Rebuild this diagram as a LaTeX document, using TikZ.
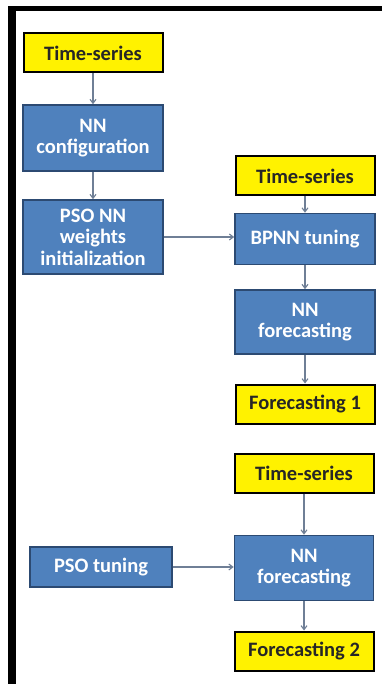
\documentclass[tikz,border=0pt]{standalone}
\usepackage{fontspec}
\setmainfont{Carlito}
\usetikzlibrary{arrows.meta}
\definecolor{boxblue}{HTML}{4F81BD}
\definecolor{boxedge}{HTML}{2C4A72}
\definecolor{arrowgray}{HTML}{6F7F96}
\tikzset{
  bluebox/.style={draw=boxedge, line width=1.6pt, fill=boxblue, text=white, font=\fontsize{20.5}{21.5}\selectfont\bfseries, align=center, inner sep=0pt, minimum width=140pt},
  yelbox/.style={draw=black, line width=2pt, fill=yellow, text=black!85, font=\fontsize{20.5}{21.5}\selectfont\bfseries, align=center, inner sep=0pt, minimum width=139pt, minimum height=39pt},
  conn/.style={draw=arrowgray, line width=1.1pt, -{Straight Barb[length=4pt,width=6pt]}}
}
\begin{document}
\begin{tikzpicture}[x=1pt,y=-1pt]
\useasboundingbox (0,0) rectangle (382,684);
\fill[white] (0,0) rectangle (382,684);
\fill[black] (8,6) rectangle (382,11);
\fill[black] (8,6) rectangle (16,684);
\node[yelbox] (ts1) at (93,53) {Time-series};
\node[bluebox, minimum height=66pt] (cfg) at (93,138) {NN\\configuration};
\node[bluebox, minimum height=74pt] (pso) at (93,237) {PSO NN\\weights\\initialization};
\node[yelbox] (ts2) at (305,176) {Time-series};
\node[bluebox, minimum height=51pt] (bp) at (305,239) {BPNN tuning};
\node[bluebox, minimum height=64pt] (nnf1) at (305,322) {NN\\forecasting};
\node[yelbox] (f1) at (305,404) {Forecasting 1};
\node[yelbox] (ts3) at (304,473) {Time-series};
\node[bluebox, minimum width=139pt, minimum height=65pt] (nnf2) at (304,568) {NN\\forecasting};
\node[bluebox, minimum width=142pt, minimum height=40pt] (psot) at (101,567) {PSO tuning};
\node[yelbox] (f2) at (304,651) {Forecasting 2};
\draw[conn] (ts1) -- (cfg);
\draw[conn] (cfg) -- (pso);
\draw[conn] (pso.east) -- (pso.east -| bp.west);
\draw[conn] (ts2) -- (bp);
\draw[conn] (bp) -- (nnf1);
\draw[conn] (nnf1) -- (f1);
\draw[conn] (ts3) -- (nnf2);
\draw[conn] (psot.east) -- (psot.east -| nnf2.west);
\draw[conn] (nnf2) -- (f2);
\end{tikzpicture}
\end{document}
